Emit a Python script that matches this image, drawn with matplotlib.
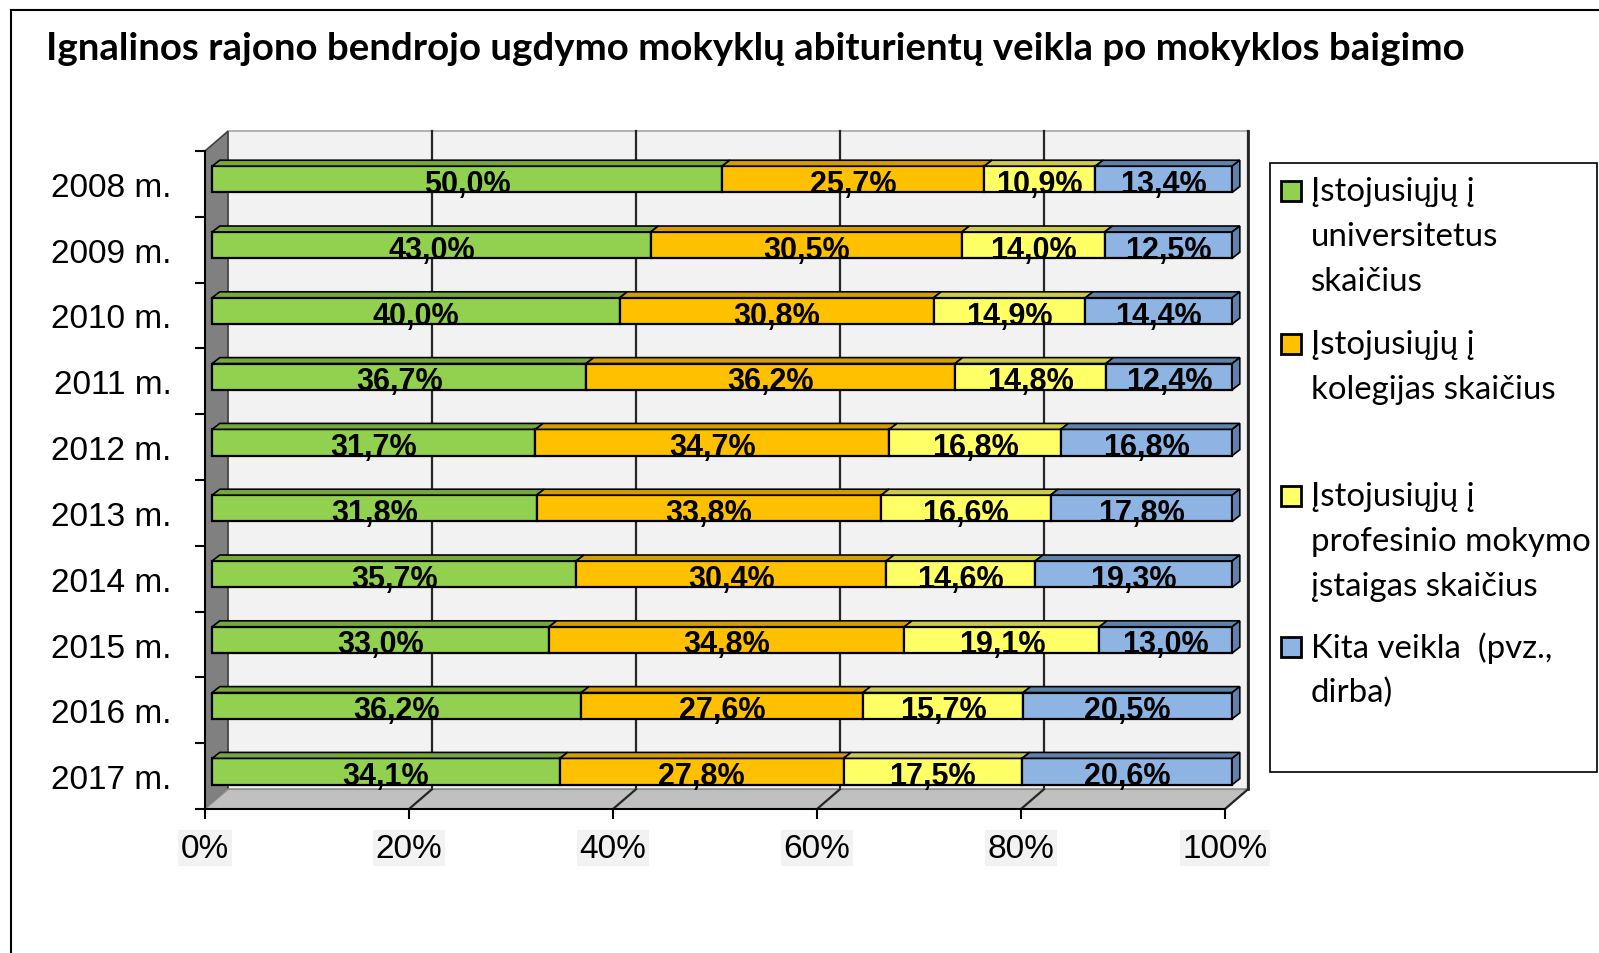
import numpy as np
import matplotlib.pyplot as plt
from matplotlib.patches import Polygon, Rectangle
from matplotlib.lines import Line2D

# -----------------------------
# Data
# -----------------------------
years = ["2008 m.", "2009 m.", "2010 m.", "2011 m.", "2012 m.",
         "2013 m.", "2014 m.", "2015 m.", "2016 m.", "2017 m."]
universitetai = [50.0, 43.0, 40.0, 36.7, 31.7, 31.8, 35.7, 33.0, 36.2, 34.1]
kolegijos = [25.7, 30.5, 30.8, 36.2, 34.7, 33.8, 30.4, 34.8, 27.6, 27.8]
profesinis = [10.9, 14.0, 14.9, 14.8, 16.8, 16.6, 14.6, 19.1, 15.7, 17.5]
kita = [13.4, 12.5, 14.4, 12.4, 16.8, 17.8, 19.3, 13.0, 20.5, 20.6]

series_names = ["Įstojusiųjų į\nuniversitetus\nskaičius",
                "Įstojusiųjų į\nkolegijas skaičius",
                "Įstojusiųjų į\nprofesinio mokymo\nįstaigas skaičius",
                "Kita veikla  (pvz.,\ndirba)"]
face_colors = ["#92d050", "#ffc000", "#ffff66", "#8db4e2"]
top_colors = ["#76a83c", "#d29e00", "#cccc4a", "#5f82ad"]
xticks = [0, 20, 40, 60, 80, 100]
xtick_labels = ["0%", "20%", "40%", "60%", "80%", "100%"]

title = "Ignalinos rajono bendrojo ugdymo mokyklų abiturientų veikla po mokyklos baigimo"

# -----------------------------
# Figure / axes
# -----------------------------
W, H = 1599, 954
fig = plt.figure(figsize=(W / 100, H / 100), dpi=100)
fig.patch.set_facecolor("white")
ax = fig.add_axes([205 / W, (H - 810) / H, (1225 - 205) / W, (810 - 152) / H])
n = len(years)
ax.set_xlim(0, 100)
ax.set_ylim(n - 0.5, -0.5)
ax.set_facecolor("none")

# 3D look: depth offset of the back wall, bar position inside the depth
DX, DY = 2.25, -0.30
OX, OY = 0.7, -0.07
BDX, BDY = 0.75, -0.09
BH = 0.40

# back wall
ax.add_patch(Rectangle((DX, -0.5 + DY), 100, n, facecolor="#f2f2f2",
                       edgecolor="#a6a6a6", lw=1.2, zorder=0.5, clip_on=False))
ax.plot([100 + DX, 100 + DX], [-0.5 + DY, n - 0.5 + DY], color="#262626",
        lw=2, zorder=0.55, clip_on=False)
for xv in xticks[1:]:
    ax.plot([xv + DX, xv + DX], [-0.5 + DY, n - 0.5 + DY], color="#262626",
            lw=1.6, zorder=0.6, clip_on=False)

# left wall and floor
ax.add_patch(Polygon([(0, -0.5), (DX, -0.5 + DY), (DX, n - 0.5 + DY), (0, n - 0.5)],
                     closed=True, facecolor="#808080", edgecolor="#404040",
                     lw=1.2, zorder=0.7, clip_on=False))
ax.add_patch(Polygon([(0, n - 0.5), (100, n - 0.5), (100 + DX, n - 0.5 + DY),
                      (DX, n - 0.5 + DY)], closed=True, facecolor="#c0c0c0",
                     edgecolor="#909090", lw=1.2, zorder=0.7, clip_on=False))
for xv in xticks[1:]:
    ax.plot([xv, xv + DX], [n - 0.5, n - 0.5 + DY], color="#262626",
            lw=1.6, zorder=0.75, clip_on=False)

# -----------------------------
# Stacked 100% bars
# -----------------------------
data = np.array([universitetai, kolegijos, profesinis, kita])
shares = data / data.sum(axis=0) * 100
cum = np.zeros(n)
ypos = np.arange(n) + OY
for j in range(len(data)):
    w = shares[j]
    ax.barh(ypos, w, left=cum + OX, height=BH, color=face_colors[j],
            edgecolor="black", lw=1.6, zorder=2, clip_on=False)
    for i in range(n):
        l = cum[i] + OX
        yt = ypos[i] - BH / 2
        ax.add_patch(Polygon([(l, yt), (l + w[i], yt), (l + w[i] + BDX, yt + BDY),
                              (l + BDX, yt + BDY)], closed=True,
                             facecolor=top_colors[j], edgecolor="black", lw=1.2,
                             zorder=2, clip_on=False))
        if j == len(data) - 1:
            r = l + w[i]
            ax.add_patch(Polygon([(r, yt), (r, yt + BH), (r + BDX, yt + BH + BDY),
                                  (r + BDX, yt + BDY)], closed=True,
                                 facecolor=top_colors[j], edgecolor="black", lw=1.2,
                                 zorder=2, clip_on=False))
        lbl = f"{data[j][i]:.1f}%".replace(".", ",")
        ax.text(l + w[i] / 2, ypos[i] + 0.07, lbl, ha="center", va="center",
                fontsize=22, fontweight="bold", family="Liberation Sans",
                color="black", zorder=3)
    cum = cum + w

# -----------------------------
# Axes, ticks
# -----------------------------
for s in ["top", "right"]:
    ax.spines[s].set_visible(False)
ax.spines["left"].set_linewidth(1.5)
ax.spines["bottom"].set_linewidth(1.5)
ax.spines["left"].set_zorder(0.8)
ax.spines["bottom"].set_zorder(0.8)

ax.set_yticks(np.arange(n))
ax.set_yticklabels(years, fontsize=24, family="Liberation Sans")
ax.set_yticks(np.arange(n + 1) - 0.5, minor=True)
ax.tick_params(axis="y", which="major", length=0, pad=24)
ax.tick_params(axis="y", which="minor", length=7, width=1.5, direction="out")

ax.set_xticks(xticks)
ax.set_xticklabels(xtick_labels, fontsize=24, family="Liberation Sans")
ax.tick_params(axis="x", length=7, width=1.5, direction="out", pad=10)
for t in ax.get_xticklabels():
    t.set_bbox(dict(facecolor="#f2f2f2", edgecolor="none", pad=2))

# -----------------------------
# Title, legend, border
# -----------------------------
fig.text(46 / W, 1 - 49 / H, title, fontsize=27.6, fontweight="bold",
         family="Lato", ha="left", va="center")

fig.add_artist(Rectangle((1270 / W, 1 - 773 / H), (1597 - 1270) / W, (773 - 164) / H,
                         transform=fig.transFigure, facecolor="white",
                         edgecolor="black", lw=1.2))
entry_y = [192, 345, 497, 648]
for k, name in enumerate(series_names):
    y0 = entry_y[k]
    fig.add_artist(Rectangle((1281 / W, 1 - (y0 + 10) / H), 20 / W, 20 / H,
                             transform=fig.transFigure, facecolor=face_colors[k],
                             edgecolor="black", lw=2))
    for m, line in enumerate(name.split("\n")):
        fig.text(1311 / W, 1 - (y0 + 45 * m) / H, line, fontsize=23.8,
                 family="Lato", ha="left", va="center")

fig.add_artist(Line2D([11 / W, 11 / W], [0, 1 - 11 / H], transform=fig.transFigure,
                      color="black", lw=1.5))
fig.add_artist(Line2D([11 / W, 1], [1 - 11 / H, 1 - 11 / H], transform=fig.transFigure,
                      color="black", lw=1.5))

fig.savefig("out.png", dpi=100)
